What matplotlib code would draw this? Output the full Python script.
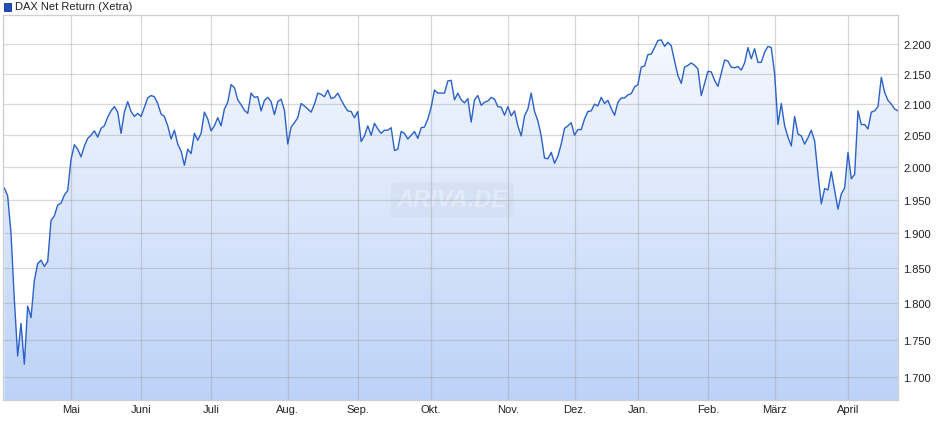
import matplotlib
matplotlib.use('Agg')
import matplotlib.pyplot as plt
from matplotlib.colors import LinearSegmentedColormap
from matplotlib.patches import Rectangle
from matplotlib.ticker import FixedLocator, NullLocator, FuncFormatter
import numpy as np

# DAX Net Return (Xetra), one close per trading day (April 2025 - April 2026)
dax = [
    1968, 1956, 1900, 1805, 1728, 1772, 1717, 1796, 1780, 1832,
    1856, 1861, 1852, 1859, 1919, 1926, 1942, 1945, 1957, 1964,
    2012, 2035, 2028, 2016, 2033, 2045, 2050, 2057, 2047, 2061,
    2065, 2079, 2089, 2096, 2087, 2053, 2087, 2104, 2088, 2080,
    2085, 2080, 2095, 2110, 2114, 2112, 2101, 2084, 2080, 2065,
    2044, 2058, 2036, 2025, 2003, 2028, 2021, 2053, 2042, 2053,
    2087, 2076, 2057, 2065, 2078, 2065, 2092, 2103, 2132, 2127,
    2107, 2099, 2090, 2085, 2118, 2111, 2112, 2089, 2106, 2111,
    2104, 2083, 2104, 2108, 2090, 2036, 2063, 2070, 2078, 2101,
    2097, 2092, 2087, 2100, 2118, 2116, 2112, 2123, 2109, 2111,
    2118, 2107, 2097, 2089, 2088, 2078, 2088, 2040, 2049, 2065,
    2050, 2069, 2060, 2053, 2058, 2058, 2062, 2026, 2028, 2056,
    2053, 2044, 2050, 2056, 2045, 2062, 2063, 2076, 2095, 2123,
    2118, 2118, 2118, 2138, 2139, 2107, 2118, 2107, 2102, 2109,
    2071, 2107, 2114, 2098, 2103, 2105, 2111, 2108, 2096, 2095,
    2082, 2096, 2081, 2089, 2065, 2049, 2081, 2092, 2118, 2088,
    2073, 2049, 2014, 2013, 2023, 2006, 2017, 2036, 2061, 2065,
    2070, 2050, 2059, 2059, 2076, 2088, 2089, 2100, 2097, 2111,
    2101, 2106, 2093, 2082, 2103, 2110, 2110, 2115, 2117, 2128,
    2132, 2161, 2163, 2182, 2183, 2194, 2206, 2207, 2196, 2203,
    2197, 2171, 2147, 2134, 2161, 2164, 2168, 2164, 2158, 2114,
    2134, 2154, 2153, 2139, 2129, 2151, 2173, 2171, 2161, 2160,
    2162, 2156, 2168, 2194, 2175, 2192, 2169, 2169, 2186, 2196,
    2194, 2150, 2067, 2101, 2065, 2047, 2033, 2080, 2052, 2049,
    2036, 2046, 2058, 2041, 1989, 1944, 1967, 1965, 1993, 1964,
    1936, 1959, 1968, 2023, 1982, 1989, 2089, 2067, 2067, 2060,
    2087, 2089, 2096, 2144, 2119, 2106, 2100, 2092, 2089,
]

months = ['Mai', 'Juni', 'Juli', 'Aug.', 'Sep.', 'Okt.', 'Nov.', 'Dez.',
          'Jan.', 'Feb.', 'März', 'April']
month_start = [20, 41, 62, 85, 106, 128, 151, 171, 190, 211, 231, 253]
y_ticks = [1700, 1750, 1800, 1850, 1900, 1950, 2000, 2050, 2100, 2150, 2200]


def main():
    plt.rcParams['font.family'] = ['Liberation Sans', 'DejaVu Sans']

    fig = plt.figure(figsize=(9.4, 4.35), dpi=100)
    ax = fig.add_axes([3 / 940, 34 / 435, 895 / 940, 385 / 435])
    ax.set_yscale('log')

    x = np.arange(len(dax))
    y = np.array(dax, dtype=float)
    ymin, ymax = 1670, 2250

    # gradient under the line, clipped by the area polygon
    area = ax.fill_between(x, y, ymin, color='none', lw=0)
    grad = np.linspace(0, 1, 256).reshape(-1, 1)
    cmap = LinearSegmentedColormap.from_list('area', ['#bcd2f7', '#f9fbff'])
    img = ax.imshow(grad, cmap=cmap, aspect='auto', origin='lower',
                    extent=[0, 1, 0, 1], transform=ax.transAxes, zorder=0.5)
    img.set_clip_path(area.get_paths()[0], transform=ax.transData)

    ax.plot(x, y, color='#2b62c6', lw=1.0, zorder=2)

    ax.set_xlim(-0.4, len(dax) - 1)
    ax.set_ylim(ymin, ymax)

    # watermark, barely visible
    ax.text(0.502, 0.52, 'ARIVA.DE', transform=ax.transAxes, ha='center', va='center',
            fontsize=17, fontweight='bold', fontstyle='italic', color='white', alpha=0.35,
            bbox=dict(boxstyle='round,pad=0.25', fc='#b9c6da', ec='none', alpha=0.18),
            zorder=1.2)

    ax.set_axisbelow('line')
    ax.grid(True, color='#9a9a9a', alpha=0.38, lw=0.9)

    ax.set_xticks(month_start, months)
    ax.yaxis.tick_right()
    ax.yaxis.set_major_locator(FixedLocator(y_ticks))
    ax.yaxis.set_minor_locator(NullLocator())
    ax.yaxis.set_major_formatter(FuncFormatter(lambda v, p: f'{v:,.0f}'.replace(',', '.')))
    ax.tick_params(axis='both', length=0, labelsize=8, labelcolor='#222222')
    ax.tick_params(axis='y', pad=4)
    ax.tick_params(axis='x', pad=3)

    for s in ax.spines.values():
        s.set_color('#cfcfcf')
        s.set_linewidth(0.9)

    # legend entry
    fig.patches.append(Rectangle((4 / 940, 1 - 12 / 435), 7 / 940, 8 / 435,
                                 transform=fig.transFigure, facecolor='#1d50b8',
                                 edgecolor='#0b2f78', lw=0.6))
    fig.text(15 / 940, 1 - 7.5 / 435, 'DAX Net Return (Xetra)', va='center',
             fontsize=8, color='#222222')

    fig.savefig('out.png', dpi=100)


if __name__ == '__main__':
    main()
